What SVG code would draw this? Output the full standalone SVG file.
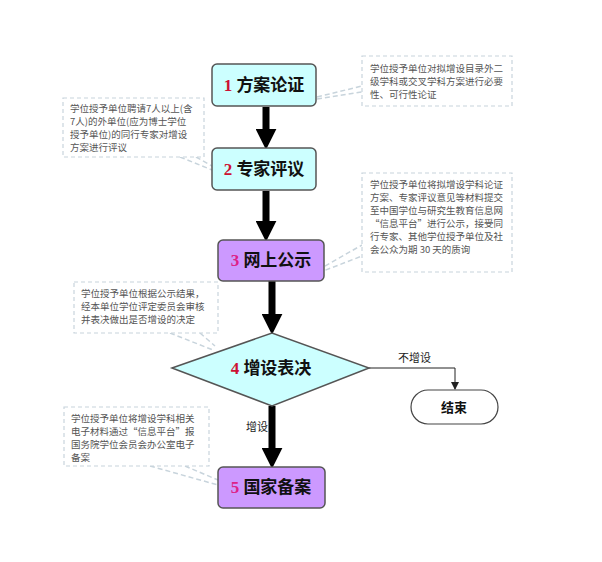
<svg xmlns="http://www.w3.org/2000/svg" width="602" height="562" viewBox="0 0 602 562">
<style>
.box{fill:#ccffff;stroke:#555;stroke-width:1.5}
.pbox{fill:#cc99ff;stroke:#555;stroke-width:1.5}
.lbl{font-family:"Liberation Serif","Noto Sans CJK SC",serif;font-size:17px;font-weight:bold;fill:#111;text-anchor:middle}
.num{fill:#cc1133}
.note{fill:#fff;stroke:#c8d4dc;stroke-width:1.2;stroke-dasharray:4 3}
.nt{font-family:"Noto Sans CJK SC",sans-serif;font-size:9.5px;fill:#555}
.lead{stroke:#c8d4dc;stroke-width:1.5;stroke-dasharray:5 3;fill:none}
.thick{stroke:#000;stroke-width:7}
.sm{font-family:"Noto Sans CJK SC",sans-serif;font-size:11px;fill:#222}
</style>
<defs>
<marker id="big" markerWidth="3" markerHeight="3" refX="1.6" refY="1.5" orient="auto" markerUnits="strokeWidth"><path d="M0,0 L3,1.5 L0,3z" fill="#000"/></marker>
<marker id="sma" markerWidth="8" markerHeight="8" refX="7" refY="4" orient="auto" markerUnits="userSpaceOnUse"><path d="M0,0 L8,4 L0,8z" fill="#222"/></marker>
</defs>
<rect width="602" height="562" fill="#fff"/>
<g id="connectors">
<line class="thick" x1="266" y1="107" x2="266" y2="140" marker-end="url(#big)"/>
<line class="thick" x1="266" y1="191" x2="266" y2="232" marker-end="url(#big)"/>
<line class="thick" x1="272" y1="281" x2="272" y2="325" marker-end="url(#big)"/>
<line class="thick" x1="272" y1="406" x2="272" y2="459" marker-end="url(#big)"/>
<polyline points="369,368 455,368 455,389" fill="none" stroke="#222" stroke-width="1" marker-end="url(#sma)"/>
<text class="sm" x="398" y="362">不增设</text>
<text class="sm" x="246" y="431">增设</text>
<path class="lead" d="M317,97 L362,86 M317,99 L362,92"/>
<path class="lead" d="M180,157 L212,170 M196,157 L212,166"/>
<path class="lead" d="M318,270 L362,245 M318,273 L362,256"/>
<path class="lead" d="M170,333 L213,350 M200,333 L215,346"/>
<path class="lead" d="M150,466 L218,485 M185,466 L218,480"/>
</g>
<g id="n1"><rect class="box" x="212" y="64" width="104" height="42" rx="5"/><text class="lbl" x="264" y="91"><tspan class="num">1</tspan>  方案论证</text></g>
<g id="n2"><rect class="box" x="212" y="148" width="104" height="42" rx="5"/><text class="lbl" x="264" y="175"><tspan class="num">2</tspan>  专家评议</text></g>
<g id="n3"><rect class="pbox" x="218" y="240" width="106" height="41" rx="5"/><text class="lbl" x="271" y="266"><tspan fill="#dd2288">3</tspan>  网上公示</text></g>
<g id="n4"><polygon class="box" points="172,368 272,333 369,368 272,406"/><text class="lbl" x="271" y="374"><tspan class="num">4</tspan>  增设表决</text></g>
<g id="n5"><rect class="pbox" x="218" y="467" width="107" height="41" rx="5"/><text class="lbl" x="271" y="493"><tspan fill="#dd2288">5</tspan>  国家备案</text></g>
<g id="end"><rect x="411" y="390" width="87" height="34" rx="17" fill="#fff" stroke="#444" stroke-width="1.2"/><text class="lbl" x="454" y="412" style="font-family:'Noto Sans CJK SC',sans-serif;font-size:13px">结束</text></g>
<g id="note1"><rect class="note" x="362" y="56" width="150" height="50"/><text class="nt" x="370" y="72">学位授予单位对拟增设目录外二</text><text class="nt" x="370" y="85">级学科或交叉学科方案进行必要</text><text class="nt" x="370" y="98">性、可行性论证</text></g>
<g id="note2"><rect class="note" x="63" y="98" width="141" height="59"/><text class="nt" x="70" y="112">学位授予单位聘请7人以上(含</text><text class="nt" x="70" y="125">7人)的外单位(应为博士学位</text><text class="nt" x="70" y="138">授予单位)的同行专家对增设</text><text class="nt" x="70" y="151">方案进行评议</text></g>
<g id="note3"><rect class="note" x="362" y="173" width="150" height="99"/><text class="nt" x="370" y="188">学位授予单位将拟增设学科论证</text><text class="nt" x="370" y="201">方案、专家评议意见等材料提交</text><text class="nt" x="370" y="214">至中国学位与研究生教育信息网</text><text class="nt" x="370" y="227">“信息平台”进行公示，接受同</text><text class="nt" x="370" y="240">行专家、其他学位授予单位及社</text><text class="nt" x="370" y="253">会公众为期 30 天的质询</text></g>
<g id="note4"><rect class="note" x="74" y="282" width="144" height="51"/><text class="nt" x="81" y="297">学位授予单位根据公示结果，</text><text class="nt" x="81" y="310">经本单位学位评定委员会审核</text><text class="nt" x="81" y="323">并表决做出是否增设的决定</text></g>
<g id="note5"><rect class="note" x="64" y="407" width="145" height="59"/><text class="nt" x="71" y="422">学位授予单位将增设学科相关</text><text class="nt" x="71" y="435">电子材料通过“信息平台”报</text><text class="nt" x="71" y="448">国务院学位会员会办公室电子</text><text class="nt" x="71" y="461">备案</text></g>
</svg>
